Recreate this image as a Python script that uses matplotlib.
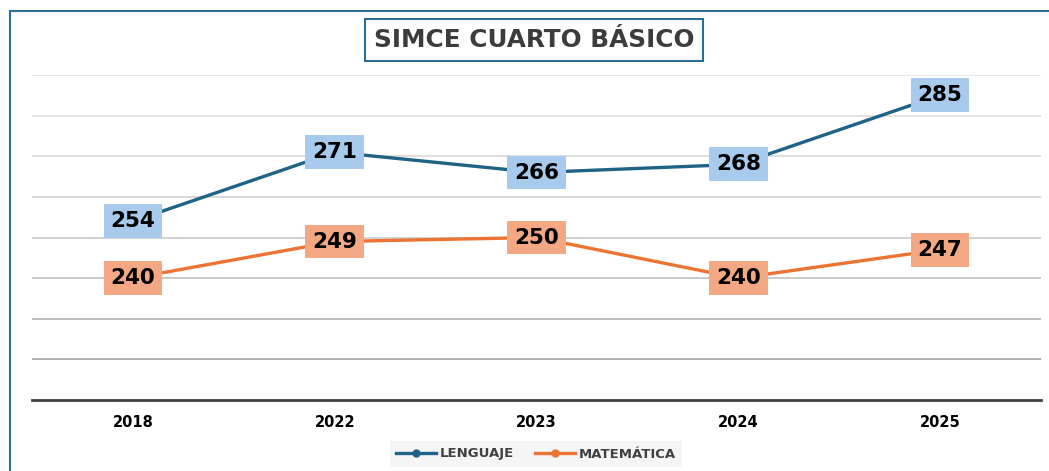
import matplotlib
matplotlib.use('Agg')
import matplotlib.pyplot as plt
from matplotlib.patches import Rectangle
from matplotlib.lines import Line2D

years = ["2018", "2022", "2023", "2024", "2025"]
lenguaje = [254, 271, 266, 268, 285]
matematica = [240, 249, 250, 240, 247]

blue = "#1f6386"
orange = "#ec7331"
blue_box = "#a8caed"
orange_box = "#f3a883"

W, H = 1049, 471
fig = plt.figure(figsize=(W / 100, H / 100), dpi=100)
fig.patch.set_facecolor("white")

# chart border (left and top visible)
fig.patches.append(Rectangle((10 / W, -0.1), 1.2, (H - 11) / H + 0.1,
                             transform=fig.transFigure, fill=False,
                             edgecolor="#2a6f97", linewidth=1.5))

ax = fig.add_axes([32 / W, (H - 400) / H, 1009 / W, 325 / H])
x = list(range(len(years)))
ax.set_xlim(-0.5, len(years) - 0.5)
ax.set_ylim(210, 290)

# gridlines get darker toward the bottom
grid_vals = [220, 230, 240, 250, 260, 270, 280, 290]
grid_cols = ["#a9a9a9", "#b9b9b9", "#c6c6c6", "#cfcfcf", "#d6d6d6", "#dcdcdc", "#e0e0e0", "#e6e6e6"]
for v, c in zip(grid_vals, grid_cols):
    ax.axhline(v, color=c, linewidth=1.3, zorder=0)

for s in ["top", "right", "left"]:
    ax.spines[s].set_visible(False)
ax.spines["bottom"].set_color("#404040")
ax.spines["bottom"].set_linewidth(2)
ax.set_yticks([])
ax.set_xticks(x)
ax.set_xticklabels(years, fontsize=10.5, fontweight="bold", family="DejaVu Sans")
ax.tick_params(axis="x", length=0, pad=11)

ax.plot(x, lenguaje, color=blue, linewidth=2.4, zorder=2)
ax.plot(x, matematica, color=orange, linewidth=2.4, zorder=2)

for xi, v in zip(x, lenguaje):
    ax.text(xi, v, str(v), ha="center", va="center", fontsize=15.5, fontweight="bold",
            family="DejaVu Sans", zorder=3,
            bbox=dict(boxstyle="square,pad=0.32", facecolor=blue_box, edgecolor="none"))
for xi, v in zip(x, matematica):
    ax.text(xi, v, str(v), ha="center", va="center", fontsize=15.5, fontweight="bold",
            family="DejaVu Sans", zorder=3,
            bbox=dict(boxstyle="square,pad=0.32", facecolor=orange_box, edgecolor="none"))

fig.text(534 / W, 1 - 40 / H, "SIMCE CUARTO BÁSICO", ha="center", va="center",
         fontsize=17.8, fontweight="bold", color="#3c3c3c", family="DejaVu Sans",
         bbox=dict(boxstyle="square,pad=0.35", facecolor="white", edgecolor="#2a6f97", linewidth=1.5))

handles = [Line2D([], [], color=blue, linewidth=2.4, marker="o", markersize=5),
           Line2D([], [], color=orange, linewidth=2.4, marker="o", markersize=5)]
leg = fig.legend(handles, ["LENGUAJE", "MATEMÁTICA"], loc="center",
                 bbox_to_anchor=(536 / W, 1 - 454 / H), ncol=2, frameon=True,
                 fancybox=False, handlelength=3.0, handletextpad=0.3, columnspacing=1.6,
                 borderpad=0.5, borderaxespad=0, prop=dict(family="DejaVu Sans", weight="bold", size=9.5))
leg.get_frame().set_facecolor("#f3f3f3")
leg.get_frame().set_edgecolor("none")
leg._legend_box.sep = 0
for t in leg.get_texts():
    t.set_color("#404040")

fig.savefig("out.png", dpi=100)
